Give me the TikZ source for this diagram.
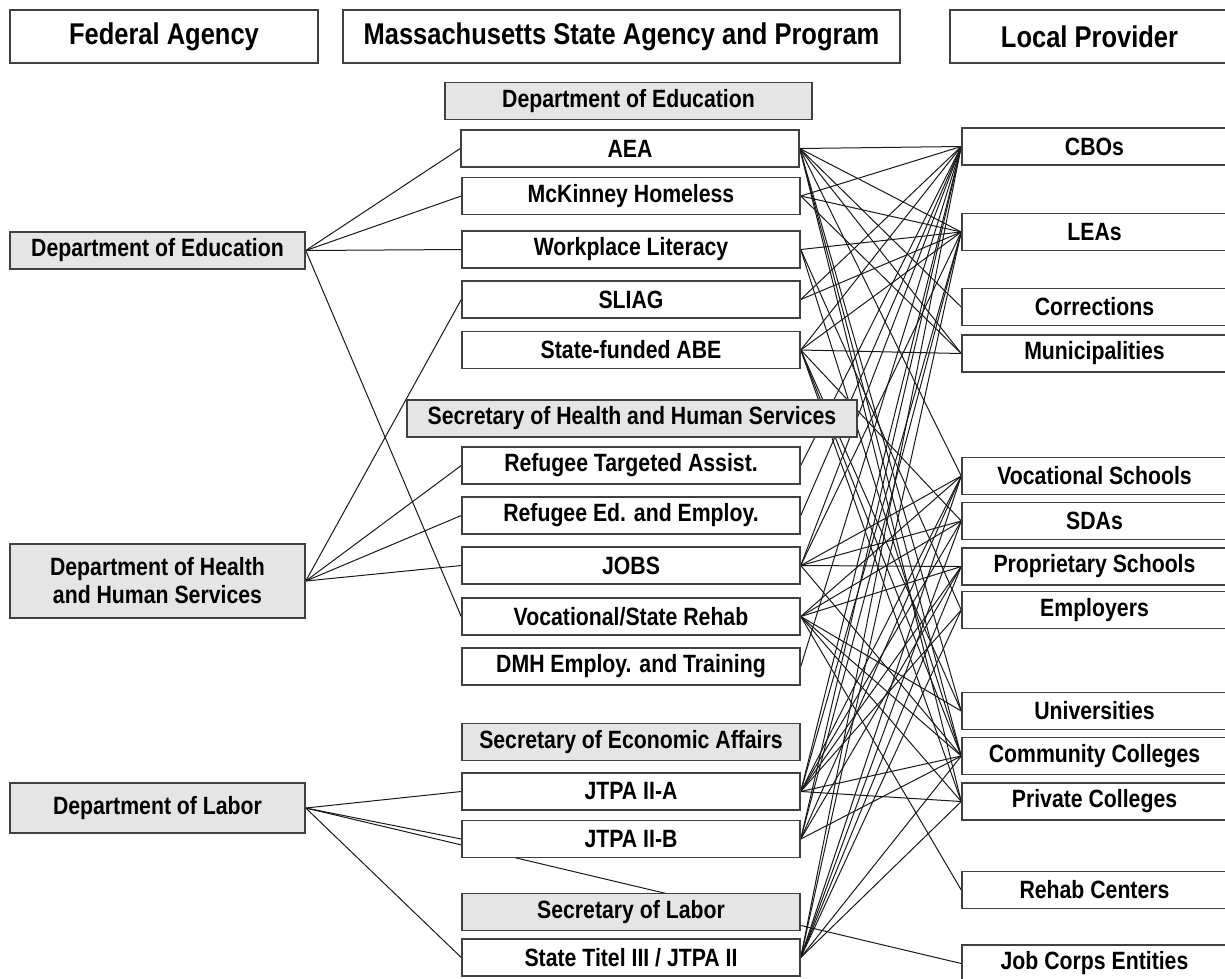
\documentclass[tikz,border=0pt]{standalone}
\usepackage{fontspec}
\setmainfont[FakeStretch=0.85]{Liberation Sans}
\usetikzlibrary{backgrounds}

\begin{document}
\begin{tikzpicture}[x=1pt,y=-1pt,font=\bfseries\fontsize{25}{28}\selectfont]
\tikzstyle{prog}=[rectangle, draw=black!75, line width=1.5pt, fill=white, minimum width=338pt, minimum height=37pt, inner sep=0pt]
\tikzstyle{agency}=[prog, fill=black!10]
\tikzstyle{fed}=[agency, minimum width=295pt]
\tikzstyle{provider}=[prog, minimum width=265pt]
\tikzstyle{head}=[prog, minimum height=53pt, font=\bfseries\fontsize{30}{34}\selectfont]
\tikzstyle{link}=[line width=1pt, black!90]

\clip (0,0) rectangle (1225,978);

% column heads
\node[head, minimum width=308pt] (HFED) at (164,36.5) {Federal Agency};
\node[head, minimum width=557pt] (HSTATE) at (621.5,36.5) {Massachusetts State Agency and Program};
\node[head, minimum width=279pt] (HLOC) at (1089.5,36.5) {Local Provider};

% federal agencies
\node[fed] (FEDU) at (157.5,250.5) {Department of Education};
\node[fed, minimum height=74pt, align=center] (FHHS) at (157.5,581) {Department of Health\\and Human Services};
\node[fed, minimum height=50pt] (FLAB) at (157.5,808) {Department of Labor};

% state agencies and programs
\node[agency, minimum width=367pt] (SEDU) at (628.5,101) {Department of Education};
\node[prog] (AEA) at (630,148.5) {AEA};
\node[prog] (MCK) at (631,196) {McKinney Homeless};
\node[prog] (WPL) at (631,249.5) {Workplace Literacy};
\node[prog] (SLIAG) at (631,299.5) {SLIAG};
\node[prog] (ABE) at (631,350) {State-funded ABE};
\node[agency, minimum width=450pt] (SHHS) at (632,418.5) {Secretary of Health and Human Services};
\node[prog] (RTA) at (631,465.5) {Refugee Targeted Assist.};
\node[prog] (REE) at (631,515.5) {Refugee Ed. and Employ.};
\node[prog] (JOBS) at (631,565.5) {JOBS};
\node[prog] (VSR) at (631,616.5) {Vocational/State Rehab};
\node[prog] (DMH) at (631,666.5) {DMH Employ. and Training};
\node[agency] (SECO) at (631,742) {Secretary of Economic Affairs};
\node[prog] (JTPAA) at (631,791.5) {JTPA II-A};
\node[prog] (JTPAB) at (631,839) {JTPA II-B};
\node[agency] (SLAB) at (631,912) {Secretary of Labor};
\node[prog] (STATE) at (631,957.5) {State Titel III / JTPA II};

% local providers
\node[provider] (CBO) at (1094.5,146.5) {CBOs};
\node[provider] (LEA) at (1094.5,232) {LEAs};
\node[provider] (CORR) at (1094.5,307) {Corrections};
\node[provider] (MUN) at (1094.5,353.5) {Municipalities};
\node[provider] (VOCS) at (1094.5,476) {Vocational Schools};
\node[provider] (SDA) at (1094.5,521) {SDAs};
\node[provider] (PROP) at (1094.5,566.5) {Proprietary Schools};
\node[provider] (EMP) at (1094.5,610) {Employers};
\node[provider] (UNIV) at (1094.5,711) {Universities};
\node[provider] (CC) at (1094.5,756) {Community Colleges};
\node[provider] (PC) at (1094.5,801.5) {Private Colleges};
\node[provider] (REHAB) at (1094.5,890) {Rehab Centers};
\node[provider] (JOBC) at (1094.5,963.5) {Job Corps Entities};

\begin{scope}[on background layer]
\path[link] (FEDU.east) edge (AEA.west)
                edge (MCK.west)
                edge (WPL.west)
                edge (VSR.west)
          (FHHS.east) edge (SLIAG.west)
                edge (RTA.west)
                edge (REE.west)
                edge (JOBS.west)
          (FLAB.east) edge (JTPAA.west)
                edge (JTPAB.west)
                edge (STATE.west)
                edge (JOBC.west);
\path[link] (AEA.east) edge (CBO.west) edge (LEA.west) edge (CORR.west) edge (MUN.west)
                edge (VOCS.west) edge (UNIV.west) edge (CC.west) edge (PC.west)
          (MCK.east) edge (CBO.west) edge (LEA.west) edge (MUN.west)
          (WPL.east) edge (LEA.west) edge (EMP.west) edge (CC.west)
          (SLIAG.east) edge (CBO.west) edge (LEA.west)
          (ABE.east) edge (CBO.west) edge (LEA.west) edge (MUN.west) edge (SDA.west)
                edge (UNIV.west) edge (CC.west) edge (PC.west)
          (RTA.east) edge (CBO.west)
          (REE.east) edge (CBO.west)
          (JOBS.east) edge (CBO.west) edge (LEA.west) edge (VOCS.west) edge (SDA.west)
                edge (PROP.west) edge (CC.west)
          (VSR.east) edge (VOCS.west) edge (SDA.west) edge (PROP.west)
                edge (REHAB.west) edge (UNIV.west) edge (CC.west) edge (PC.west)
          (DMH.east) edge (CBO.west)
          (JTPAA.east) edge (CBO.west) edge (LEA.west) edge (VOCS.west) edge (SDA.west)
                edge (PROP.west) edge (EMP.west) edge (CC.west) edge (PC.west)
          (JTPAB.east) edge (CBO.west) edge (LEA.west) edge (VOCS.west) edge (PROP.west)
                edge (CC.west)
          (STATE.east) edge (CBO.west) edge (LEA.west) edge (VOCS.west) edge (SDA.west)
                edge (PROP.west) edge (EMP.west) edge (CC.west) edge (PC.west);
\end{scope}
\end{tikzpicture}
\end{document}
